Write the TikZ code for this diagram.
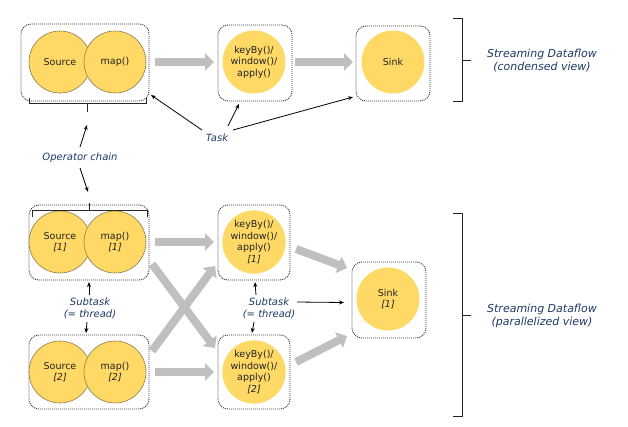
\documentclass[tikz,border=0pt]{standalone}
\usepackage{fontspec}
\setmainfont{DejaVu Sans}
\usetikzlibrary{arrows.meta}
\definecolor{yel}{HTML}{FFD966}
\definecolor{gr}{HTML}{BFBFBF}
\definecolor{lbl}{HTML}{1F3864}
\definecolor{txt}{HTML}{222222}
\definecolor{rim}{HTML}{8A7A4A}
\begin{document}
\begin{tikzpicture}[x=1pt,y=-1pt,
  every node/.style={font=\fontsize{9.5}{11.5}\selectfont, text=txt},
  taskbox/.style={draw=black!80, dash pattern=on 1pt off 1pt, line width=0.9pt, rounded corners=10pt, inner sep=0pt},
  opc/.style={circle, fill=yel, draw=rim, line width=0.6pt, minimum size=62pt, inner sep=0pt, align=center},
  opn/.style={circle, fill=yel, minimum size=63pt, inner sep=0pt, align=center},
  garrow/.style={draw=gr, line width=8pt, -{Triangle[width=17pt,length=9pt]}},
  lab/.style={font=\fontsize{10}{12}\selectfont\itshape, text=lbl, align=center},
  biglab/.style={font=\fontsize{11}{13}\selectfont\itshape, text=lbl, align=center},
  parr/.style={draw=black, line width=0.8pt, -{Stealth[length=5pt,width=4pt]}},
  brk/.style={draw=black!85, line width=0.9pt}
]
\useasboundingbox (0,0) rectangle (628,426);

% ---------- top row ----------
\node[taskbox, minimum width=128pt, minimum height=77pt] (box1) at (85,62.5) {};
\node[taskbox, minimum width=74pt, minimum height=76pt] (box2) at (255,63) {};
\node[taskbox, minimum width=74pt, minimum height=75pt] (box3) at (393,63.5) {};
\node[opc] (src) at (60,62) {Source};
\node[opc] (map) at (115,62) {map()};
\node[opn] (key) at (254,62) {keyBy()/\\window()/\\apply()};
\node[opn] (sink) at (393,62) {Sink};

\coordinate (a1s) at (155,62); \coordinate (a1e) at (214,62);
\coordinate (a2s) at (295,62); \coordinate (a2e) at (353,62);
\draw[garrow] (a1s) -- (a1e);
\draw[garrow] (a2s) -- (a2e);

% bracket under box1
\draw[brk] (29,98) -- (29,103.5) -- (146,103.5) -- (146,98);
\draw[brk] (87,103.5) -- (87,112);

% right bracket top
\draw[brk] (453,18) -- (462,18) -- (462,101) -- (453,101);
\draw[brk] (462,60) -- (471,60);
\node[biglab] (sd1) at (542,61) {Streaming Dataflow\\(condensed view)};

% Task
\node[lab] (task) at (217,138) {Task};
\coordinate (t1) at (151,95);
\coordinate (t2) at (239,104);
\coordinate (t3) at (353,97);
\draw[parr] (202,130) -- (t1);
\draw[parr] (228,126) -- (t2);
\draw[parr] (233,130) -- (t3);

% Operator chain
\node[lab] (oc) at (80,158) {Operator chain};
\draw[parr] (80,147) -- (87,125);
\draw[parr] (80,168) -- (88,192);

% ---------- bottom ----------
\node[taskbox, minimum width=120pt, minimum height=75pt] (bs1) at (89,242.5) {};
\node[taskbox, minimum width=120pt, minimum height=74pt] (bs2) at (89,372) {};
\node[taskbox, minimum width=72pt, minimum height=75pt] (bk1) at (254,242.5) {};
\node[taskbox, minimum width=72pt, minimum height=74pt] (bk2) at (254,372) {};
\node[taskbox, minimum width=74pt, minimum height=76pt] (bsk) at (389,300) {};

\node[opc] (src1) at (60,242) {Source\\\textit{[1]}};
\node[opc] (map1) at (115,242) {map()\\\textit{[1]}};
\node[opc] (src2) at (60,372) {Source\\\textit{[2]}};
\node[opc] (map2) at (115,372) {map()\\\textit{[2]}};
\node[opn] (key1) at (254,242) {keyBy()/\\window()/\\apply()\\\textit{[1]}};
\node[opn] (key2) at (254,372) {keyBy()/\\window()/\\apply()\\\textit{[2]}};
\node[opn] (sink1) at (388,299) {Sink\\\textit{[1]}};

\coordinate (b1s) at (155,242); \coordinate (b1e) at (214,242);
\coordinate (b2s) at (155,372); \coordinate (b2e) at (214,372);
\coordinate (c1s) at (152,264); \coordinate (c1e) at (215,348);
\coordinate (c2s) at (152,351); \coordinate (c2e) at (215,266);
\coordinate (d1s) at (296,249); \coordinate (d1e) at (347,268);
\coordinate (d2s) at (296,362); \coordinate (d2e) at (347,336);
\draw[garrow] (b1s) -- (b1e);
\draw[garrow] (b2s) -- (b2e);
\draw[garrow] (c1s) -- (c1e);
\draw[garrow] (c2s) -- (c2e);
\draw[garrow] (d1s) -- (d1e);
\draw[garrow] (d2s) -- (d2e);

% bracket over bs1
\draw[brk] (32,217) -- (32,210) -- (147,210) -- (147,217);
\draw[brk] (89,210) -- (89,203);

% Subtask labels
\node[lab] (st1) at (90,308) {Subtask\\(= thread)};
\node[lab] (st2) at (269,308) {Subtask\\(= thread)};
\draw[parr] (89,295) -- (89,282);
\draw[parr] (87,322) -- (86,333);
\draw[parr] (256,295) -- (255,282);
\draw[parr] (254,322) -- (252,333);
\draw[parr] (297,302) -- (344,302.5);

% right bracket bottom
\draw[brk] (453,213) -- (462,213) -- (462,416) -- (453,416);
\draw[brk] (462,315) -- (471,315);
\node[biglab] (sd2) at (542,316) {Streaming Dataflow\\(parallelized view)};
\end{tikzpicture}
\end{document}
